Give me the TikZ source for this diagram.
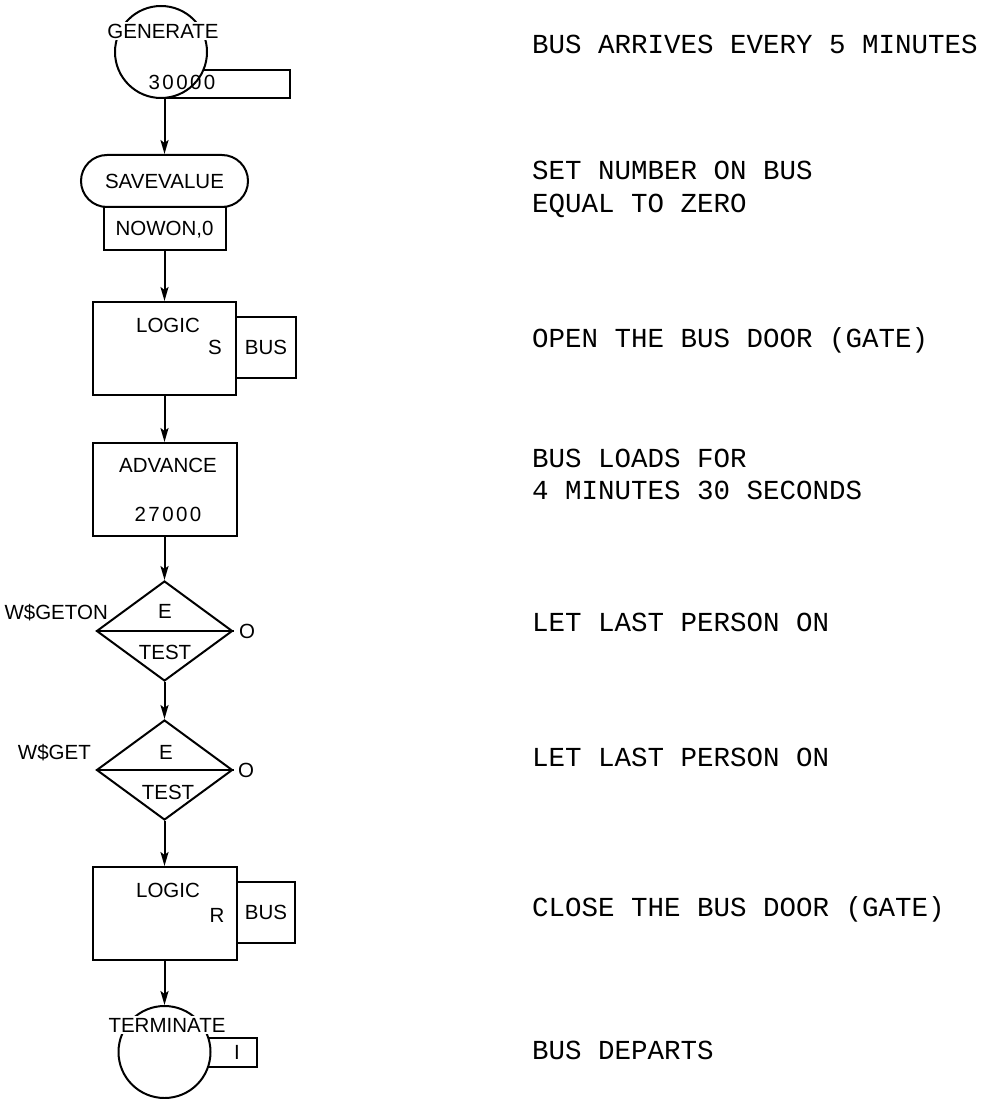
\documentclass[tikz,border=0pt]{standalone}
\usepackage{fontspec}
\setmainfont{Liberation Sans}
\newfontfamily\plotfont{Liberation Mono}
\newfontfamily\digitfont[LetterSpace=12]{Liberation Sans}
\usetikzlibrary{shapes.geometric,arrows.meta}
\begin{document}
\begin{tikzpicture}[x=1pt,y=-1pt,
  lw/.style={line width=2pt},
  lab/.style={font=\fontsize{20.5}{20.5}\selectfont, inner sep=0pt, text height=14.7pt, text depth=0pt},
  num/.style={lab, font=\digitfont\fontsize{20.5}{20.5}\selectfont},
  note/.style={font=\plotfont\fontsize{27.5}{27.5}\selectfont, anchor=west, inner sep=0pt, text height=18pt, text depth=0pt},
  blk/.style={draw, lw, inner sep=0pt},
  flow/.style={draw, lw, -{Stealth[length=14pt,width=8pt,inset=3pt]}}
]
\path[use as bounding box] (0,0) rectangle (988,1099);

% GENERATE
\node[blk, minimum width=129pt, minimum height=28pt] (genbox) at (225.5,84) {};
\node[blk, circle, fill=white, minimum size=92pt] (gen) at (161,52) {};
\node[lab, fill=white, inner sep=1.5pt] (gent) at (163,31) {GENERATE};
\node[num] (genv) at (182,82) {30000};

% SAVEVALUE
\node[blk, lab, rounded corners=26pt, minimum width=167pt, minimum height=52pt] (sv) at (164.5,181) {SAVEVALUE};
\node[blk, lab, minimum width=122pt, minimum height=43pt] (nw) at (164.5,228.5) {NOWON,0};

% LOGIC S
\node[blk, minimum width=143pt, minimum height=93pt] (lgs) at (164.5,348.5) {};
\node[blk, lab, minimum width=60pt, minimum height=61pt] (bus1) at (266,347.5) {BUS};
\node[lab] (lgst) at (168,325) {LOGIC};
\node[lab] (lgss) at (215,347) {S};

% ADVANCE
\node[blk, minimum width=144pt, minimum height=93pt] (adv) at (164.5,489.5) {};
\node[lab] (advt) at (168,465) {ADVANCE};
\node[num] (advv) at (168,514) {27000};

% TEST 1
\node[blk, diamond, minimum width=136pt, minimum height=100pt] (d1) at (164.5,631) {};
\draw[lw] (d1.west) -- (d1.east);
\node[lab] (d1e) at (165,611) {E};
\node[lab] (d1t) at (165,652) {TEST};
\node[lab, anchor=east] (d1a) at (108,612) {W\$GETON};
\node[lab] (d1b) at (247,631) {O};

% TEST 2
\node[blk, diamond, minimum width=136pt, minimum height=100pt] (d2) at (164.5,770) {};
\draw[lw] (d2.west) -- (d2.east);
\node[lab] (d2e) at (166,752) {E};
\node[lab] (d2t) at (168,792) {TEST};
\node[lab, anchor=east] (d2a) at (91,752) {W\$GET};
\node[lab] (d2b) at (246,770) {O};

% LOGIC R
\node[blk, minimum width=144pt, minimum height=93pt] (lgr) at (164.5,913.5) {};
\node[blk, lab, minimum width=58pt, minimum height=61pt] (bus2) at (266,912.5) {BUS};
\node[lab] (lgrt) at (168,890) {LOGIC};
\node[lab] (lgrr) at (217,915) {R};

% TERMINATE
\node[blk, minimum width=67pt, minimum height=29pt] (termbox) at (223.5,1052.5) {};
\node[blk, circle, fill=white, minimum size=92pt] (term) at (164.5,1052) {};
\node[lab, fill=white, inner sep=1.5pt] (termt) at (167,1025) {TERMINATE};
\node[lab] (termv) at (237,1052) {I};

% connectors
\draw[flow] (gen.south -| sv.north) -- (sv.north);
\draw[flow] (nw.south) -- (lgs.north);
\draw[flow] (lgs.south) -- (adv.north);
\draw[flow] (adv.south) -- (d1.north);
\draw[flow] (d1.south) -- (d2.north);
\draw[flow] (d2.south) -- (lgr.north);
\draw[flow] (lgr.south) -- (term.north);

% notes
\node[note] (n1) at (532,45) {BUS ARRIVES EVERY 5 MINUTES};
\node[note] (n2a) at (532,171) {SET NUMBER ON BUS};
\node[note] (n2b) at (532,204) {EQUAL TO ZERO};
\node[note] (n3) at (532,338) {OPEN THE BUS DOOR (GATE)};
\node[note] (n4a) at (532,458) {BUS LOADS FOR};
\node[note] (n4b) at (532,490) {4 MINUTES 30 SECONDS};
\node[note] (n5) at (532,622) {LET LAST PERSON ON};
\node[note] (n6) at (532,757) {LET LAST PERSON ON};
\node[note] (n7) at (532,907) {CLOSE THE BUS DOOR (GATE)};
\node[note] (n8) at (532,1050) {BUS DEPARTS};
\end{tikzpicture}
\end{document}
